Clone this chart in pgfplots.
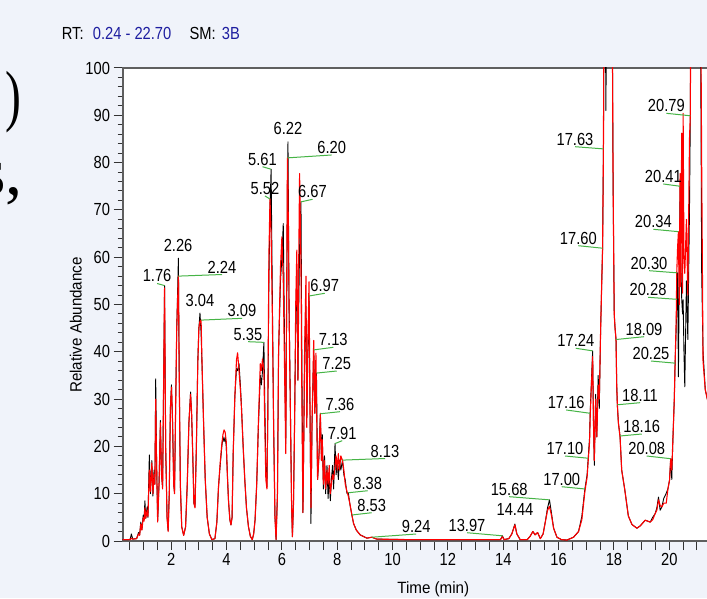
\documentclass[border=0pt]{standalone}
\usepackage{pgfplots}
\usepackage{pgfplotstable}
\pgfplotsset{compat=1.18}
\usepackage{fontspec}
\setmainfont{Liberation Sans}
\newfontfamily\nar{Liberation Sans}[FakeStretch=0.84]
\newfontfamily\lab{Liberation Sans}[FakeStretch=0.93]
\newfontfamily\serifbig{Liberation Serif}
\newfontfamily\serifnar{Liberation Serif}[FakeStretch=0.7]
\definecolor{bgc}{RGB}{240,243,250}
\definecolor{rtblue}{RGB}{30,30,160}
\definecolor{leadc}{RGB}{70,180,70}
\definecolor{axc}{RGB}{95,95,95}

\pgfplotstableread{
t k r
0.24 0.3 0.3
0.45 0.3 0.3
0.52 0.4 0.3
0.56 1.5 0.6
0.61 0.4 0.4
0.75 0.5 0.5
0.82 1.8 1.5
0.86 1.3 1.2
0.90 4.0 3.6
0.94 2.4 2.3
0.99 5.5 5.0
1.02 4.5 4.2
1.05 8.5 7.0
1.08 4.8 4.8
1.13 7.2 6.5
1.16 5.0 5.2
1.21 18.2 15.0
1.25 10.0 10.5
1.30 17.0 16.5
1.34 9.5 10.0
1.38 15.0 14.0
1.41 12.0 12.0
1.44 34.3 30.0
1.47 18.0 17.0
1.51 4.2 4.0
1.56 12.0 12.0
1.61 25.5 25.0
1.65 14.0 14.0
1.69 11.5 11.0
1.72 30.0 30.0
1.76 54.0 53.5
1.80 20.0 20.0
1.85 5.0 5.0
1.89 2.2 2.0
1.93 10.0 10.0
1.97 28.0 28.0
2.01 33.0 32.5
2.05 25.0 25.0
2.09 12.0 12.0
2.12 10.3 10.0
2.16 28.0 28.0
2.20 45.0 45.0
2.26 59.8 56.0
2.29 35.0 35.0
2.33 12.0 12.0
2.38 3.0 3.0
2.45 1.2 1.2
2.52 3.0 3.0
2.58 12.0 12.0
2.64 25.0 25.0
2.70 31.5 31.0
2.74 26.0 27.0
2.78 18.0 18.0
2.82 8.0 8.0
2.86 7.3 7.0
2.91 20.0 20.0
2.96 38.0 37.0
3.00 45.0 45.0
3.04 48.2 46.5
3.08 44.0 46.7
3.12 36.0 36.0
3.17 25.0 25.0
3.23 13.0 13.0
3.30 5.0 5.0
3.38 1.5 1.5
3.47 0.3 0.3
3.58 0.5 0.5
3.65 4.0 4.0
3.71 11.5 11.5
3.77 16.0 16.5
3.83 20.0 20.5
3.87 22.0 22.5
3.91 21.0 23.5
3.95 22.0 23.0
3.99 20.0 21.0
4.03 14.0 14.0
4.07 8.6 8.6
4.12 4.5 4.5
4.16 3.4 3.4
4.20 5.0 5.0
4.24 18.5 18.5
4.30 30.5 30.5
4.36 36.5 38.3
4.40 36.0 39.8
4.45 37.5 36.0
4.50 33.0 32.0
4.54 28.4 28.0
4.60 20.0 20.0
4.66 12.9 12.9
4.72 7.0 7.0
4.79 3.1 3.1
4.86 1.0 1.0
4.93 0.3 0.3
4.98 1.5 1.5
5.03 4.4 4.4
5.09 12.0 12.0
5.15 24.0 25.0
5.22 35.0 37.5
5.26 33.0 36.0
5.30 36.0 38.5
5.35 42.0 36.0
5.38 30.0 25.0
5.42 16.0 13.0
5.46 11.5 11.0
5.49 25.0 27.0
5.53 55.0 60.0
5.57 70.0 72.3
5.61 78.6 65.0
5.65 55.0 50.0
5.70 25.0 25.0
5.75 5.0 5.0
5.79 0.3 0.3
5.84 10.0 10.0
5.88 39.7 40.0
5.95 55.0 58.0
6.00 60.0 64.3
6.05 67.1 55.0
6.10 40.0 35.0
6.14 20.6 18.5
6.18 55.0 60.0
6.20 75.0 81.0
6.22 84.4 75.0
6.26 50.0 48.0
6.30 32.0 30.0
6.35 8.0 8.0
6.38 0.9 0.9
6.42 8.0 8.0
6.46 25.6 25.6
6.50 45.0 50.0
6.54 57.3 61.5
6.58 34.0 34.0
6.61 50.0 60.0
6.64 62.0 77.7
6.69 71.7 58.0
6.72 40.0 32.0
6.76 6.0 6.0
6.79 20.0 22.0
6.82 38.2 40.0
6.87 49.6 56.0
6.90 26.0 24.0
6.94 40.0 42.0
6.98 51.8 54.8
7.02 25.0 25.0
7.05 3.7 7.0
7.09 25.0 25.0
7.15 40.4 42.4
7.19 27.0 27.0
7.23 33.0 39.7
7.25 35.5 30.0
7.29 13.0 13.0
7.34 18.0 18.0
7.39 26.9 27.0
7.43 17.0 17.0
7.46 22.5 21.4
7.50 11.0 12.0
7.54 18.0 17.0
7.58 10.0 11.0
7.63 16.0 15.0
7.67 9.0 12.0
7.71 14.0 16.0
7.75 8.5 10.0
7.79 13.0 12.0
7.83 16.0 14.0
7.87 11.0 13.0
7.92 20.6 16.0
7.96 14.0 18.0
8.00 17.0 15.0
8.04 13.0 18.5
8.08 17.0 15.0
8.13 15.0 18.0
8.19 17.1 17.0
8.24 14.0 15.0
8.29 12.9 12.0
8.35 10.1 10.5
8.40 10.2 9.5
8.47 7.3 7.5
8.53 5.5 5.5
8.59 3.7 3.7
8.69 2.3 2.3
8.83 1.3 1.3
9.07 0.6 0.6
9.25 0.8 0.8
9.43 0.4 0.4
10.5 0.3 0.3
12.0 0.3 0.3
13.0 0.3 0.3
13.90 0.3 0.3
13.97 1.1 0.9
14.03 0.3 0.3
14.20 0.5 0.5
14.31 1.5 1.5
14.42 3.6 3.4
14.49 1.5 1.5
14.61 0.3 0.3
14.87 0.3 0.3
14.97 1.0 1.0
15.07 2.0 2.0
15.15 1.3 1.3
15.24 1.8 1.8
15.34 0.5 0.5
15.44 1.5 1.5
15.52 4.1 4.0
15.60 7.0 6.5
15.67 8.7 7.3
15.74 6.0 5.5
15.82 2.7 2.7
15.94 0.8 0.8
16.10 0.3 0.3
16.30 0.2 0.2
16.54 0.8 0.8
16.72 2.0 2.0
16.84 5.2 4.5
16.95 11.0 10.5
17.03 14.0 13.5
17.07 17.5 17.0
17.12 22.0 21.0
17.14 27.0 26.0
17.18 33.0 32.0
17.23 40.2 39.0
17.26 25.0 25.0
17.29 16.0 17.0
17.34 31.0 30.0
17.38 22.0 22.0
17.43 35.0 33.0
17.47 28.0 30.0
17.52 45.0 45.0
17.56 55.0 55.0
17.59 61.9 61.9
17.62 82.9 82.9
17.66 140 150
17.71 91 150
17.76 150 150
17.88 150 150
17.94 110 110
17.97 75 75
18.01 48 48
18.04 45 45
18.075 42.6 42.6
18.10 33 33
18.122 28.8 29.0
18.16 25 25
18.22 22.2 22.0
18.28 15 15
18.39 10.9 10.9
18.52 5.3 5.3
18.65 3.5 3.5
18.83 2.7 2.7
18.95 3.2 3.2
19.13 4.4 4.4
19.31 4.0 4.0
19.40 5.0 4.5
19.49 5.8 5.8
19.55 7.0 6.5
19.61 9.3 8.7
19.67 6.5 7.5
19.73 7.2 7.2
19.80 9.0 8.0
19.89 10.1 8.0
19.95 11.0 11.0
20.01 12.9 12.9
20.05 17.4 17.4
20.09 13.0 15.0
20.13 21.4 21.4
20.18 29.8 29.8
20.21 37.6 37.6
20.25 45.0 47.0
20.27 51.1 56.7
20.30 56.7 62.0
20.33 34.7 65.4
20.36 55.0 50.0
20.39 75.0 77.7
20.41 60.0 53.8
20.45 51.0 86.2
20.48 48.0 52.4
20.50 51.0 90.4
20.53 40.0 60.0
20.56 32.6 56.6
20.62 55.0 68.0
20.67 42.6 52.0
20.73 70.0 85.0
20.76 89.9 89.9
20.80 150 150
21.10 150 150
21.17 57 80
21.22 40 38
21.30 32 32
21.45 28 28
}\chrom

\newcommand\pk[5]{%
  \draw[leadc, line width=1pt] (axis cs:#2,#3) -- (axis cs:#4,#5);
  \node[plab] at (axis cs:#2,#3) {#1};}

\begin{document}
\begin{tikzpicture}[plab/.style={anchor=base, yshift=1.5pt, inner sep=0pt, font=\nar\fontsize{17.5}{20}\selectfont}]
\fill[bgc] (0pt,0pt) rectangle (707pt,598pt);
\begin{scope}
\clip (0pt,0pt) rectangle (707pt,598pt);
\node[anchor=base east, inner sep=0pt, font=\serifnar\fontsize{68}{80}\selectfont] at (21.5pt,479pt) {)};
\node[anchor=base east, inner sep=0pt, font=\serifbig\fontsize{68}{80}\selectfont] at (23pt,403pt) {s,};
\node[anchor=base west, inner sep=0pt, font=\nar\fontsize{17.5}{20}\selectfont] at (61.7pt,558pt) {RT:};
\node[anchor=base west, inner sep=0pt, text=rtblue, font=\nar\fontsize{17.5}{20}\selectfont] at (92.7pt,558pt) {0.24 - 22.70};
\node[anchor=base west, inner sep=0pt, font=\nar\fontsize{17.5}{20}\selectfont] at (189.3pt,558pt) {SM:};
\node[anchor=base west, inner sep=0pt, text=rtblue, font=\nar\fontsize{17.5}{20}\selectfont] at (221.7pt,558pt) {3B};
\begin{axis}[
  scale only axis, width=621.5pt, height=473pt,
  at={(122.5pt,57pt)}, anchor=south west,
  xmin=0.24, xmax=22.70, ymin=0, ymax=100,
  axis background/.style={fill=white},
  axis line style={axc, line width=2pt},
  tick align=outside, xtick pos=left, ytick pos=left,
  xtick={0.5,1,...,22.5},
  xticklabels={,,,2,,,,4,,,,6,,,,8,,,,10,,,,12,,,,14,,,,16,,,,18,,,,20,,,,,,,},
  ytick={0,10,...,100}, minor y tick num=4,
  major tick length=9pt, minor tick length=5pt,
  tick style={black!80, line width=1pt},
  ticklabel style={font=\nar\fontsize{17.5}{20}\selectfont},
  /pgf/number format/assume math mode=true,
  xlabel={Time (min)},
  xlabel style={at={(rel axis cs:0.5,-0.110)}, anchor=base, font=\lab\fontsize{16.3}{19}\selectfont},
  ylabel={Relative Abundance},
  ylabel style={at={(rel axis cs:-0.0656,0.4567)}, anchor=base, font=\lab\fontsize{16.3}{19}\selectfont},
  every axis plot/.append style={line join=round},
]
\addplot[black, line width=0.9pt] table[x=t,y=k]{\chrom};
\addplot[red, line width=1.1pt] table[x=t,y=r]{\chrom};
\pk{1.76}{1.49}{54.44}{1.76}{54.0}
\node[plab, yshift=0pt] at (axis cs:2.25,60.9) {2.26};
\pk{2.24}{3.836}{56.34}{2.26}{56.0}
\node[plab, yshift=0pt] at (axis cs:3.041,49.26) {3.04};
\pk{3.09}{4.559}{47.08}{3.08}{46.7}
\pk{5.35}{4.776}{42.14}{5.35}{42.0}
\pk{5.61}{5.300}{79.13}{5.61}{78.6}
\pk{5.52}{5.390}{72.94}{5.57}{72.3}
\node[plab, yshift=0pt] at (axis cs:6.221,85.62) {6.22};
\pk{6.20}{7.800}{81.61}{6.20}{81.0}
\pk{6.67}{7.107}{72.24}{6.69}{71.7}
\pk{6.97}{7.548}{52.37}{6.98}{51.8}
\pk{7.13}{7.858}{40.95}{7.15}{40.4}
\pk{7.25}{7.981}{35.94}{7.25}{35.5}
\pk{7.36}{8.100}{27.34}{7.39}{26.9}
\pk{7.91}{8.180}{21.21}{7.92}{20.6}
\pk{8.13}{9.727}{17.44}{8.19}{17.1}
\pk{8.38}{9.101}{10.63}{8.40}{10.2}
\pk{8.53}{9.246}{5.98}{8.53}{5.5}
\pk{9.24}{10.854}{1.48}{9.25}{0.8}
\pk{13.97}{12.690}{1.75}{13.97}{1.1}
\node[plab, yshift=0pt] at (axis cs:14.425,5.14) {14.44};
\pk{15.68}{14.215}{9.37}{15.67}{8.7}
\pk{17.00}{16.113}{11.48}{16.95}{11.0}
\pk{17.10}{16.232}{17.97}{17.07}{17.5}
\pk{17.16}{16.275}{27.70}{17.14}{27.0}
\pk{17.24}{16.622}{40.74}{17.23}{40.2}
\pk{17.60}{16.713}{62.43}{17.59}{61.9}
\pk{17.63}{16.593}{83.36}{17.62}{82.9}
\pk{18.09}{19.087}{43.19}{18.075}{42.6}
\pk{18.11}{18.943}{29.24}{18.122}{28.8}
\pk{18.16}{19.004}{22.62}{18.22}{22.2}
\pk{20.08}{19.185}{17.97}{20.05}{17.4}
\pk{20.25}{19.340}{38.05}{20.21}{37.6}
\pk{20.28}{19.232}{51.52}{20.27}{51.1}
\pk{20.30}{19.268}{57.15}{20.27}{56.7}
\pk{20.34}{19.423}{65.90}{20.33}{65.4}
\pk{20.41}{19.784}{75.48}{20.39}{75.0}
\pk{20.79}{19.893}{90.42}{20.76}{89.9}
\end{axis}
\end{scope}
\pgfresetboundingbox
\useasboundingbox (0pt,0pt) rectangle (707pt,598pt);
\end{tikzpicture}
\end{document}
